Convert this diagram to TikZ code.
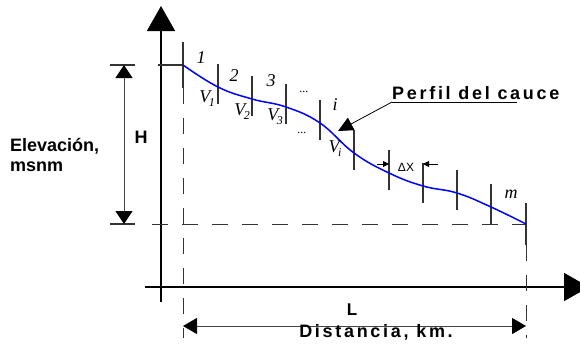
\documentclass[tikz,border=0pt]{standalone}
\usepackage{fontspec}
\setmainfont{Liberation Serif}
\newfontfamily\arial{Liberation Sans}
\newfontfamily\arialsp[LetterSpace=15]{Liberation Sans}
\usetikzlibrary{arrows.meta,calc}
\definecolor{riverBlue}{HTML}{0000FF}
\definecolor{tickGray}{HTML}{333333}
\definecolor{dimGray}{HTML}{444444}
\newcommand{\vsub}[1]{V\kern-1.5pt\raisebox{-4pt}{\fontsize{12}{13}\selectfont #1}}

\begin{document}
\begin{tikzpicture}[x=1pt, y=-1pt,
    lbl/.style={font=\arial\bfseries\fontsize{18}{20}\selectfont, inner sep=0pt, align=left},
    spaced/.style={font=\arialsp\bfseries\fontsize{18}{20}\selectfont, inner sep=0pt},
    itl/.style={font=\itshape\fontsize{18}{20}\selectfont, inner sep=0pt},
    dots/.style={font=\itshape\fontsize{12}{13}\selectfont, inner sep=0pt},
    axis/.style={line width=1.6pt, -{Triangle[length=25pt, width=28pt]}},
    dimline/.style={dimGray, line width=0.9pt, {Triangle[length=13pt, width=17pt, black]}-{Triangle[length=13pt, width=17pt, black]}},
    tickline/.style={tickGray, line width=1.1pt},
    dashline/.style={tickGray, line width=1pt, dash pattern=on 16pt off 14pt}]
    \useasboundingbox (0,0) rectangle (580,348);

    % points of the river profile
    \foreach \name/\x/\y in {p0/183/65, p1/218/87, p2/252/99, p3/286/107, p4/320/123, p5/354/153,
        p6/389/173, p7/423/186, p8/457/193, p9/491/207, p10/526/224}
      \coordinate (\name) at (\x,\y);

    % axes
    \coordinate (yBot) at (161,302);
    \coordinate (yTop) at (161,6);
    \coordinate (xLeft) at (145,287);
    \coordinate (xRight) at (589,287);
    \draw[axis] (yBot) -- (yTop);
    \draw[axis] (xLeft) -- (xRight);

    % reference lines
    \draw[dashline] ($(p0)+(0,23)$) -- (183,338);
    \draw[dashline] ($(p10)+(0,21)$) -- (526,338);
    \draw[dashline] (152,224) -- (p10);
    \draw[tickline] (158,65) -- (p0);
    \draw[tickline] (110,65) -- (135,65);
    \draw[tickline] (110,224) -- (135,224);

    % segment marks
    \draw[tickline] ($(p0)+(0,-23)$) -- ($(p0)+(0,23)$);
    \foreach \i in {1,...,9}
      \draw[tickline] ($(p\i)+(0,-23)$) -- ($(p\i)+(0,17)$);
    \draw[tickline] ($(p10)+(0,-21)$) -- ($(p10)+(0,21)$);

    % profile
    \draw[riverBlue, line width=1.5pt] plot[smooth, tension=0.7] coordinates {(p0) (p1) (p2) (p3) (p4) (p5) (p6) (p7) (p8) (p9) (p10)};

    % dimensions
    \coordinate (hTop) at (124,65);
    \coordinate (hBot) at (124,224);
    \draw[dimline] (hTop) -- (hBot);
    \coordinate (lLeft) at (183,326);
    \coordinate (lRight) at (526,326);
    \draw[dimline, {Triangle[length=14pt, width=16pt, black]}-{Triangle[length=14pt, width=16pt, black]}] (lLeft) -- (lRight);

    \node[lbl, anchor=west] (elev) at (10,155) {Elevación,\\msnm};
    \node[lbl] (hLbl) at (141,137) {H};
    \node[lbl, font=\arial\bfseries\fontsize{17}{20}\selectfont] (lLbl) at (352,310) {L};
    \node[spaced] (dist) at (376,332) {Distancia, km.};

    % segment labels
    \node[itl] (n1) at (201,58) {1};
    \node[itl] (n2) at (234,76) {2};
    \node[itl] (n3) at (271,81) {3};
    \node[dots] (nd) at (304,92) {...};
    \node[itl] (ni) at (335,105) {i};
    \node[itl] (nm) at (511,194) {m};
    \node[itl] (v1) at (207,99) {\vsub{1}};
    \node[itl] (v2) at (242,112) {\vsub{2}};
    \node[itl] (v3) at (275,117) {\vsub{3}};
    \node[dots] (vd) at (302,133) {...};
    \node[itl] (vi) at (335,149) {\vsub{i}};

    % channel label
    \node[spaced, anchor=base west] (perfil) at (392,99) {Perfil del cauce};
    \coordinate (ulStart) at (392,102);
    \coordinate (ulEnd) at (517,102);
    \coordinate (tip) at (338,131);
    \draw[line width=0.8pt] (ulEnd) -- (ulStart);
    \draw[line width=0.8pt, -{Triangle[length=15pt, width=14pt]}] (ulStart) -- (tip);

    % segment width
    \node[font=\arial\fontsize{12}{13}\selectfont, inner sep=0pt] (dx) at (406,167) {ΔX};
    \coordinate (dxL) at (377,164);
    \coordinate (dxR) at (438,164);
    \draw[line width=0.8pt, -{Triangle[length=6pt, width=6pt]}] (dxL) -- (p6 |- dxL);
    \draw[line width=0.8pt, -{Triangle[length=6pt, width=6pt]}] (dxR) -- (p7 |- dxR);
  \end{tikzpicture}
\end{document}
